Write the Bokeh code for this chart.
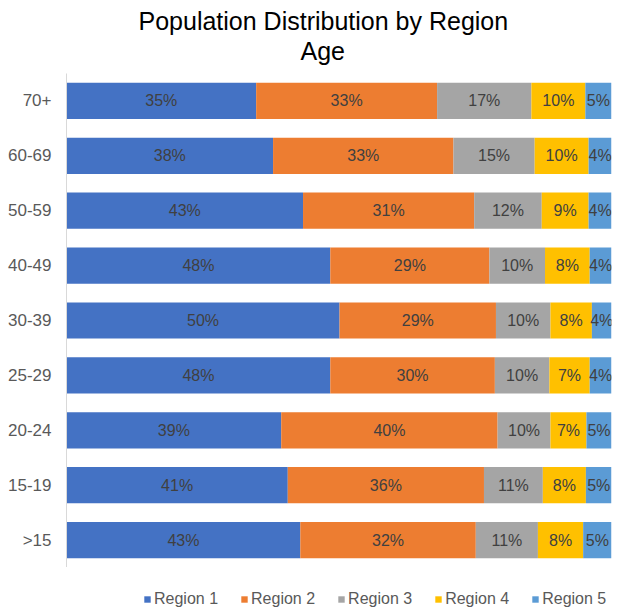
from bokeh.plotting import figure
from bokeh.layouts import column
from bokeh.models import ColumnDataSource, FactorRange, Range1d, Legend, LegendItem, Title
from bokeh.embed import file_html
from bokeh.resources import INLINE
from bokeh.core.properties import value

ages = [">15", "15-19", "20-24", "25-29", "30-39", "40-49", "50-59", "60-69", "70+"]
regions = ["Region 1", "Region 2", "Region 3", "Region 4", "Region 5"]
region1 = [42.9, 40.6, 39.4, 48.4, 50.1, 48.4, 43.4, 37.9, 34.8]
region2 = [32.2, 36.0, 39.7, 30.2, 28.7, 29.2, 31.4, 33.1, 33.2]
region3 = [11.4, 10.8, 9.7, 10.0, 10.0, 10.2, 12.4, 14.9, 17.3]
region4 = [8.3, 7.9, 6.6, 7.4, 7.6, 8.2, 8.6, 9.9, 9.9]
region5 = [5.2, 4.7, 4.6, 4.0, 3.6, 4.0, 4.2, 4.2, 4.8]
colors = ["#4472C4", "#ED7D31", "#A5A5A5", "#FFC000", "#5B9BD5"]

series = [region1, region2, region3, region4, region5]
FONT = "Liberation Sans"

data = {"age": ages}
for name, vals in zip(regions, series):
    data[name] = vals
source = ColumnDataSource(data)

p = figure(width=613, height=567, y_range=FactorRange(factors=ages, range_padding=0),
           x_range=Range1d(0, 100), output_backend="svg", toolbar_location=None,
           min_border_left=66, min_border_right=2, min_border_top=73, min_border_bottom=0)

renderers = p.hbar_stack(regions, y="age", height=0.66, color=colors, source=source, line_color=None)

# labels
lx, ly, lt = [], [], []
cum = [0.0] * len(ages)
for vals in series:
    for i, v in enumerate(vals):
        lx.append(cum[i] + v / 2)
        ly.append(ages[i])
        lt.append(f"{v:.0f}%")
        cum[i] += v
lsrc = ColumnDataSource(dict(x=lx, y=ly, t=lt))
p.text(x="x", y="y", text="t", source=lsrc, text_align="center", text_baseline="middle",
       text_font=value(FONT), text_font_size="16px", text_color="#404040")

p.xaxis.visible = False
p.xgrid.visible = False
p.ygrid.visible = False
p.outline_line_color = None
yax = p.yaxis[0]
yax.axis_line_color = "#D9D9D9"
yax.major_tick_line_color = None
yax.minor_tick_line_color = None
yax.major_label_standoff = 9
yax.major_label_text_font = FONT
yax.major_label_text_font_size = "17px"
yax.major_label_text_color = "#595959"

# small spacer between the frame and the title lines
p.add_layout(Title(text=" ", text_font_size="1px", standoff=6), "above")
p.add_layout(Title(text="Age", align="left", offset=234, text_font=FONT, text_font_size="25px",
                   text_font_style="normal", text_color="#000000", standoff=0), "above")
p.add_layout(Title(text="Population Distribution by Region", align="left", offset=72,
                   text_font=FONT, text_font_size="25px", text_font_style="normal",
                   text_color="#000000", standoff=0), "above")

# legend strip below the chart (swatch renderers are zero-size, only their colours are used)
p2 = figure(width=613, height=41, x_range=Range1d(0, 1), y_range=Range1d(0, 1),
            output_backend="svg", toolbar_location=None,
            min_border_left=0, min_border_right=0, min_border_top=0, min_border_bottom=0)
p2.axis.visible = False
p2.grid.visible = False
p2.outline_line_color = None
legend_renderers = [p2.hbar(y=[-1], left=[0], right=[0], height=0, color=c, line_color=None)
                    for c in colors]
legend = Legend(items=[LegendItem(label=n, renderers=[r]) for n, r in zip(regions, legend_renderers)],
                orientation="horizontal", location=(77, 0),
                glyph_width=8, glyph_height=8, label_standoff=3, spacing=22, label_height=16,
                label_text_font=FONT, label_text_font_size="16px", label_text_color="#595959",
                border_line_color=None, background_fill_alpha=0, margin=0, padding=0)
p2.add_layout(legend, "center")

layout = column(p, p2, spacing=0)
open("out.html", "w").write(file_html(layout, INLINE))
